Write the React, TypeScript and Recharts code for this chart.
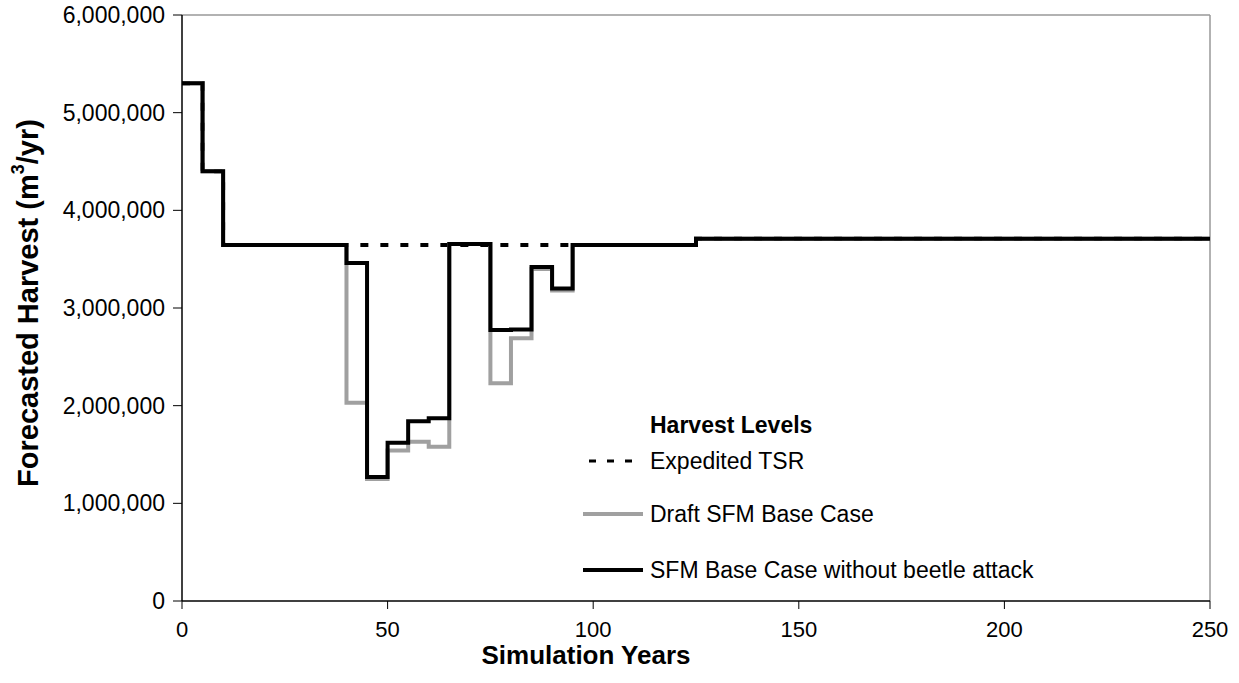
import { Legend, Line, LineChart, ReferenceLine, XAxis, YAxis, Label } from 'recharts'

// step break points (simulation year) and harvest level from that year on, m3/yr
const years = [0, 5, 10, 40, 45, 50, 55, 60, 65, 75, 80, 85, 90, 95, 125, 250]
const expeditedTSR = [
  5300000, 4400000, 3645000, 3645000, 3645000, 3645000, 3645000, 3645000, 3645000, 3645000, 3645000,
  3645000, 3645000, 3645000, 3710000, 3710000,
]
const draftSFM = [
  5300000, 4400000, 3645000, 2030000, 1250000, 1540000, 1630000, 1580000, 3655000, 2230000, 2690000,
  3400000, 3180000, 3645000, 3710000, 3710000,
]
const sfmNoBeetle = [
  5300000, 4400000, 3645000, 3460000, 1270000, 1620000, 1840000, 1870000, 3655000, 2775000, 2780000,
  3420000, 3200000, 3645000, 3710000, 3710000,
]
const xTicks = [0, 50, 100, 150, 200, 250]
const yTicks = [0, 1000000, 2000000, 3000000, 4000000, 5000000, 6000000]

const legendItems = [
  { name: 'Expedited TSR', color: '#000000', width: 3, dash: '7 11', gap: 1 },
  { name: 'Draft SFM Base Case', color: '#a0a0a0', width: 4, dash: undefined, gap: 23 },
  { name: 'SFM Base Case without beetle attack', color: '#000000', width: 4, dash: undefined, gap: 26 },
]

const data = years.map((year, i) => ({
  year,
  expedited: expeditedTSR[i],
  draft: draftSFM[i],
  noBeetle: sfmNoBeetle[i],
}))

const FONT = 'Arial, "Liberation Sans", sans-serif'

function HarvestLegend() {
  return (
    <div style={{ fontFamily: FONT, fontSize: 23, color: '#000' }}>
      <div style={{ fontWeight: 700, paddingLeft: 70, paddingTop: 6, height: 34, lineHeight: '28px' }}>
        Harvest Levels
      </div>
      {legendItems.map((item) => (
        <div key={item.name} style={{ display: 'flex', alignItems: 'center', height: 30, marginTop: item.gap }}>
          <svg width={66} height={10} style={{ marginRight: 4 }}>
            <line
              x1={item.dash ? 9 : 3}
              x2={63}
              y1={5}
              y2={5}
              stroke={item.color}
              strokeWidth={item.width}
              strokeDasharray={item.dash}
            />
          </svg>
          <span>{item.name}</span>
        </div>
      ))}
    </div>
  )
}

function YTitle({ viewBox }: any) {
  const cx = 28
  const cy = viewBox.y + viewBox.height / 2 - 5
  return (
    <text
      x={cx}
      y={cy}
      transform={`rotate(-90 ${cx} ${cy})`}
      textAnchor="middle"
      dominantBaseline="central"
      fontFamily={FONT}
      fontSize={29}
      fontWeight={700}
      fill="#000"
    >
      Forecasted Harvest (m<tspan dy={-10} fontSize={18}>3</tspan>
      <tspan dy={10}>/yr)</tspan>
    </text>
  )
}

export default function App() {
  return (
    <div style={{ position: 'fixed', left: 0, top: 0, background: '#fff' }}>
      <LineChart width={1239} height={683} data={data} margin={{ top: 15, right: 29, bottom: 0, left: 62 }}>
        <XAxis
          dataKey="year"
          type="number"
          domain={[0, 250]}
          ticks={xTicks}
          interval={0}
          height={82}
          tickSize={8}
          tickMargin={12}
          axisLine={{ stroke: '#000', strokeWidth: 1.5 }}
          tickLine={{ stroke: '#000' }}
          tick={{ fill: '#000', fontSize: 22, fontFamily: FONT }}
        >
          <Label
            value="Simulation Years"
            position="insideBottom"
            offset={19}
            dx={-110}
            style={{ fontFamily: FONT, fontSize: 26, fontWeight: 700, fill: '#000' }}
          />
        </XAxis>
        <YAxis
          type="number"
          domain={[0, 6000000]}
          ticks={yTicks}
          interval={0}
          width={120}
          tickSize={9}
          tickMargin={8}
          tickFormatter={(v: number) => v.toLocaleString('en-US')}
          axisLine={{ stroke: '#000', strokeWidth: 1.5 }}
          tickLine={{ stroke: '#000' }}
          tick={{ fill: '#000', fontSize: 23, fontFamily: FONT }}
        >
          <Label content={<YTitle />} />
        </YAxis>
        <ReferenceLine y={6000000} stroke="#999" strokeWidth={1.5} />
        <ReferenceLine x={250} stroke="#999" strokeWidth={1.5} />
        <Line
          type="stepAfter"
          dataKey="expedited"
          name="Expedited TSR"
          stroke="#000"
          strokeWidth={4}
          strokeDasharray="8 12"
          dot={false}
          isAnimationActive={false}
        />
        <Line
          type="stepAfter"
          dataKey="draft"
          name="Draft SFM Base Case"
          stroke="#a0a0a0"
          strokeWidth={4}
          dot={false}
          isAnimationActive={false}
        />
        <Line
          type="stepAfter"
          dataKey="noBeetle"
          name="SFM Base Case without beetle attack"
          stroke="#000"
          strokeWidth={4}
          dot={false}
          isAnimationActive={false}
        />
        <Legend
          layout="vertical"
          align="center"
          verticalAlign="middle"
          content={<HarvestLegend />}
          wrapperStyle={{ left: 580, top: 405, width: 480 }}
        />
      </LineChart>
    </div>
  )
}
